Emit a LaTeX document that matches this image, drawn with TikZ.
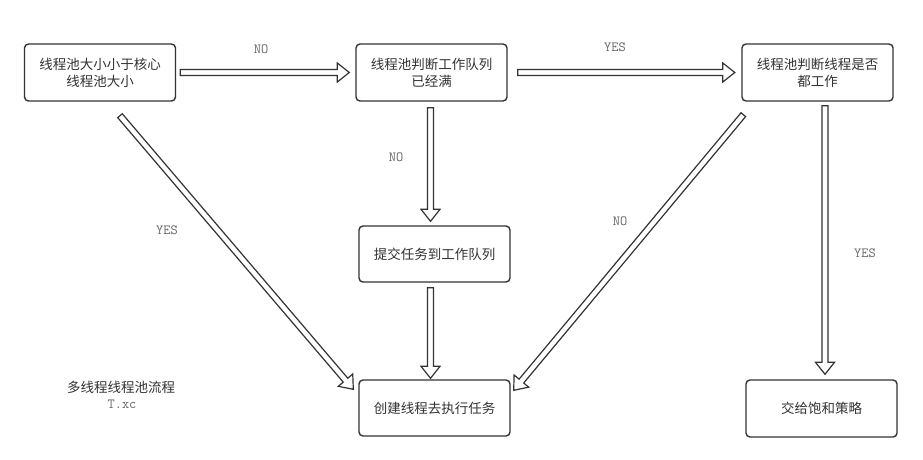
\documentclass[tikz,border=0pt]{standalone}
\usepackage{fontspec}
\usepackage{tikz}
\usetikzlibrary{calc,positioning}
\newfontfamily\cjk{Noto Sans CJK SC}
\definecolor{tinta}{rgb}{0.2,0.2,0.2}
\definecolor{grisetiqueta}{rgb}{0.4,0.4,0.4}
\tikzset{
  bloque/.style={
    rounded corners=4pt,
    draw=tinta,
    line width=1.4pt,
    fill=white,
    align=center,
    minimum width=151pt,
    minimum height=57pt,
    inner sep=2pt,
    text=tinta,
    font=\cjk\fontsize{13.5}{17}\selectfont
  },
  etiqueta/.style={
    text=grisetiqueta,
    inner sep=1pt,
    font=\ttfamily\fontsize{14}{16}\selectfont
  },
  hueca/.style={
    draw=tinta,
    line width=1.2pt,
    fill=white,
    line join=miter
  }
}
\newcommand{\flechahueca}[2]{%
  \coordinate (fh) at ($(#2)!12pt!(#1)$);
  \draw[hueca] ($(#1)!3pt!90:(#2)$) -- ($(fh)!3pt!90:(#2)$)
    -- ($(fh)!9.5pt!90:(#2)$) -- (#2) -- ($(fh)!9.5pt!-90:(#2)$)
    -- ($(fh)!3pt!-90:(#2)$) -- ($(#1)!3pt!-90:(#2)$) -- cycle;}

\begin{document}
\begin{tikzpicture}[x=1pt,y=-1pt]
\fill[white] (0,0) rectangle (923,460);
\useasboundingbox (0,0) rectangle (923,460);
\node[bloque] (a) at (100,72.5) {线程池大小小于核心\\线程池大小};
\node[bloque] (b) at (431.5,72.5) {线程池判断工作队列\\已经满};
\node[bloque] (c) at (817.5,72.5) {线程池判断线程是否\\都工作};
\node[bloque,minimum height=56pt] (d) at (434.5,254) {提交任务到工作队列};
\node[bloque,minimum height=56pt] (e) at (434.5,408) {创建线程去执行任务};
\node[bloque] (f) at (821.5,408.5) {交给饱和策略};
\coordinate (ab1) at ($(a.east)+(4,0)$);
\coordinate (ab2) at ($(b.west)+(-6,0)$);
\coordinate (bc1) at ($(b.east)+(10,0)$);
\coordinate (bc2) at ($(c.west)+(-6.5,0)$);
\coordinate (bd1) at ($(b.south)+(-1,6)$);
\coordinate (bd2) at ($(d.north)+(-4,-4)$);
\coordinate (de1) at ($(d.south)+(-4,5)$);
\coordinate (de2) at ($(e.north)+(-4,-1)$);
\coordinate (ae1) at ($(a.south)+(20,14)$);
\coordinate (ae2) at ($(e.north west)+(-5,10)$);
\coordinate (ce1) at ($(c.south west)+(2,13)$);
\coordinate (ce2) at ($(e.north east)+(3,11)$);
\coordinate (cf1) at ($(c.south)+(7.5,4)$);
\coordinate (cf2) at ($(f.north)+(3.5,-5)$);
\flechahueca{ab1}{ab2}
\flechahueca{bc1}{bc2}
\flechahueca{bd1}{bd2}
\flechahueca{de1}{de2}
\flechahueca{ae1}{ae2}
\flechahueca{ce1}{ce2}
\flechahueca{cf1}{cf2}
\node[etiqueta] (l1) at (261,49) {NO};
\node[etiqueta] (l2) at (615,47) {YES};
\node[etiqueta] (l3) at (396,157) {NO};
\node[etiqueta] (l4) at (167,230) {YES};
\node[etiqueta] (l5) at (620,221) {NO};
\node[etiqueta] (l6) at (865,253) {YES};
\node[text=tinta,font=\cjk\fontsize{13.5}{17}\selectfont] (titulo) at (121,387) {多线程线程池流程};
\node[etiqueta] (autor) at (122,404.5) {T.xc};
\end{tikzpicture}
\end{document}
